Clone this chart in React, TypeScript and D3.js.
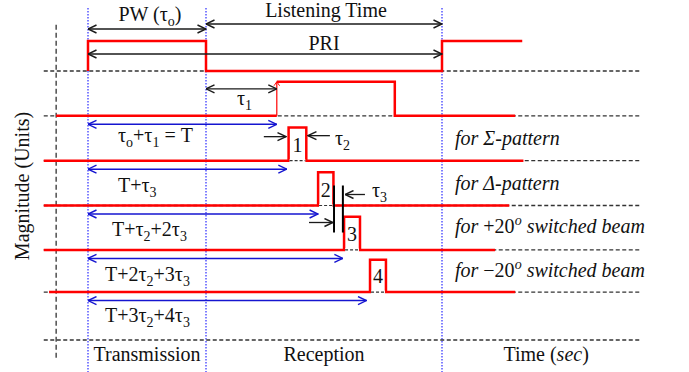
import React from "react";
import * as d3 from "d3";

const W = 689;
const H = 372;
const FONT = "'Liberation Serif', 'Times New Roman', serif";

// ---- data (time in arbitrary units: 0 = start of transmission) ----
const timeMarks = [0, 10, 30]; // start of Tx, end of PW, PRI
const timeLimits = [-3.75, 46.8];
const rowBaselines = [6, 5, 4, 3, 2.01, 1.07]; // magnitude offset of each trace
const axisBaseline = 0;
const rowRedStart = [0, -2.7, -3.75, -3.75, -3.75, -3.3];
const rowRedEnd = [36.8, 36.2, 36.9, 35.7, 34.5, 36.2];
const pulseStart = [0, 16.0, 17.0, 19.5, 21.7, 23.9];
const pulseEnd = [10, 26.0, 18.5, 20.8, 23.05, 25.25];
const pulseAmp = [0.67, 0.76, 0.74, 0.74, 0.74, 0.72];
const pulseNumbers = ["", "", "1", "2", "3", "4"];
const txRepeatStart = 30;

const delayEnds = [16.0, 16.85, 19.5, 21.6, 23.6];
type Part = [string, string | null, string | null];
const delayLabels: Part[][] = [
  [["τ", null, null], ["o", "sub", null], ["+τ", null, null], ["1", "sub", null], [" = T", null, null]],
  [["T+τ", null, null], ["3", "sub", null]],
  [["T+τ", null, null], ["2", "sub", null], ["+2τ", null, null], ["3", "sub", null]],
  [["T+2τ", null, null], ["2", "sub", null], ["+3τ", null, null], ["3", "sub", null]],
  [["T+3τ", null, null], ["2", "sub", null], ["+4τ", null, null], ["3", "sub", null]],
];
const rowNotes: Part[][] = [
  [["for Σ-pattern", null, null]],
  [["for Δ-pattern", null, null]],
  [["for ", null, null], ["+20", null, "normal"], ["o", "sup", null], [" switched beam", null, null]],
  [["for ", null, null], ["−20", null, "normal"], ["o", "sup", null], [" switched beam", null, null]],
];
const phaseLabels = ["Transmission", "Reception"];
const tau2Marks = [14.9, 16.78, 20.5, 18.64];
const tau3Marks = [18.73, 20.76, 23.47, 21.78];
const tau3Bars = [20.85, 21.6];

const xs = d3.scaleLinear().domain([0, 30]).range([88, 442]);
const ys = d3.scaleLinear().domain([0, 6]).range([340, 71]);
const line = d3.line<[number, number]>().x((d) => xs(d[0])).y((d) => ys(d[1]));

function Rich({ x, y, parts, anchor = "start", size = 20, italic = false }: any) {
  let cur = 0;
  return (
    <text x={x} y={y} textAnchor={anchor} fontSize={size} fontStyle={italic ? "italic" : "normal"} fontFamily={FONT} fill="#111">
      {parts.map((p: Part, i: number) => {
        const [s, kind, style] = p;
        const target = kind === "sub" ? 5 : kind === "sup" ? -8 : 0;
        const dy = target - cur;
        cur = target;
        return (
          <tspan key={i} dy={dy} fontSize={kind ? size * 0.7 : size} fontStyle={style || undefined}>
            {s}
          </tspan>
        );
      })}
    </text>
  );
}

export default function App() {
  const [t0, tPW, tPRI] = timeMarks;
  const black = "#1a1a1a";
  const blue = "#1515d0";
  const red = "#ff0000";

  const dashedRows = [...rowBaselines, axisBaseline];

  return (
    <svg width={W} height={H} style={{ position: "absolute", left: 0, top: 0, background: "#fff" }}>
      <defs>
        <marker id="ab" viewBox="0 0 10 10" refX="9.5" refY="5" markerWidth="10" markerHeight="10" markerUnits="userSpaceOnUse" orient="auto-start-reverse">
          <path d="M1,1 L9.5,5 L1,9" fill="none" stroke={black} strokeWidth="1.4" />
        </marker>
        <marker id="abl" viewBox="0 0 10 10" refX="9.5" refY="5" markerWidth="10" markerHeight="10" markerUnits="userSpaceOnUse" orient="auto-start-reverse">
          <path d="M1,1 L9.5,5 L1,9" fill="none" stroke={blue} strokeWidth="1.4" />
        </marker>
        <marker id="ar" viewBox="0 0 10 10" refX="5" refY="1" markerWidth="8" markerHeight="8" markerUnits="userSpaceOnUse" orient="0">
          <path d="M1.5,6 L5,1 L8.5,6" fill="none" stroke={red} strokeWidth="1.2" />
        </marker>
      </defs>

      {/* blue dotted time marks */}
      {timeMarks.map((t, i) => (
        <line key={i} x1={xs(t)} x2={xs(t)} y1={8} y2={H} stroke="#2a2aff" strokeWidth={1.2} strokeDasharray="1.5 1.5" />
      ))}

      {/* vertical magnitude axis */}
      <line x1={xs(-2.7)} x2={xs(-2.7)} y1={ys(7.03)} y2={ys(-0.4)} stroke="#333" strokeWidth={1.3} strokeDasharray="5 3" />

      {/* dashed baselines */}
      {dashedRows.map((b, i) => (
        <line key={i} x1={xs(timeLimits[0])} x2={xs(timeLimits[1])} y1={ys(b)} y2={ys(b)} stroke="#333" strokeWidth={1.3} strokeDasharray="4 2.5" />
      ))}

      {/* transmit trace */}
      <path
        d={line([
          [pulseStart[0], rowBaselines[0]],
          [pulseStart[0], rowBaselines[0] + pulseAmp[0]],
          [pulseEnd[0], rowBaselines[0] + pulseAmp[0]],
          [pulseEnd[0], rowBaselines[0]],
          [txRepeatStart, rowBaselines[0]],
          [txRepeatStart, rowBaselines[0] + pulseAmp[0]],
          [rowRedEnd[0], rowBaselines[0] + pulseAmp[0]],
        ])!}
        fill="none" stroke={red} strokeWidth={2.5}
      />

      {/* echo trace (row 1) */}
      <path d={line([[rowRedStart[1], rowBaselines[1]], [pulseStart[1], rowBaselines[1]]])!} fill="none" stroke={red} strokeWidth={2.5} />
      <path
        d={line([
          [pulseStart[1], rowBaselines[1] + pulseAmp[1]],
          [pulseEnd[1], rowBaselines[1] + pulseAmp[1]],
          [pulseEnd[1], rowBaselines[1]],
          [rowRedEnd[1], rowBaselines[1]],
        ])!}
        fill="none" stroke={red} strokeWidth={2.5} strokeLinejoin="miter"
      />
      <line x1={xs(pulseStart[1])} x2={xs(pulseStart[1])} y1={ys(rowBaselines[1])} y2={ys(rowBaselines[1] + pulseAmp[1])} stroke={red} strokeWidth={1.2} markerEnd="url(#ar)" />

      {/* gated pulses 1-4: baseline segments, dashed stays visible under pulse */}
      {rowBaselines.slice(2).map((b, k) => {
        const i = k + 2;
        return (
          <g key={i}>
            <path d={line([[rowRedStart[i], b], [pulseStart[i], b], [pulseStart[i], b + pulseAmp[i]], [pulseEnd[i], b + pulseAmp[i]], [pulseEnd[i], b], [rowRedEnd[i], b]])!} fill="none" stroke={red} strokeWidth={2.5} />
            <line x1={xs(pulseStart[i]) + 1} x2={xs(pulseEnd[i]) - 1} y1={ys(b)} y2={ys(b)} stroke="#fff" strokeWidth={3} />
            <line x1={xs(pulseStart[i]) + 1} x2={xs(pulseEnd[i]) - 1} y1={ys(b)} y2={ys(b)} stroke="#333" strokeWidth={1.2} strokeDasharray="3 2" />
            <text x={(xs(pulseStart[i]) + xs(pulseEnd[i])) / 2} y={ys(b) - 9} textAnchor="middle" fontSize={20} fontFamily={FONT} fill="#111">
              {pulseNumbers[i]}
            </text>
          </g>
        );
      })}

      {/* top annotations */}
      <line x1={xs(t0)} x2={xs(tPW)} y1={ys(6) - 42} y2={ys(6) - 42} stroke={black} strokeWidth={1.3} markerStart="url(#ab)" markerEnd="url(#ab)" />
      <Rich x={(xs(t0) + xs(tPW)) / 2 + 3} y={ys(6) - 50} anchor="middle" parts={[["PW (τ", null, null], ["o", "sub", null], [")", null, null]]} />
      <line x1={xs(tPW)} x2={xs(tPRI)} y1={ys(6) - 47} y2={ys(6) - 47} stroke={black} strokeWidth={1.3} markerStart="url(#ab)" markerEnd="url(#ab)" />
      <Rich x={(xs(tPW) + xs(tPRI)) / 2 + 2} y={ys(6) - 54} anchor="middle" parts={[["Listening Time", null, null]]} />
      <line x1={xs(t0)} x2={xs(tPRI)} y1={ys(6) - 17} y2={ys(6) - 17} stroke={black} strokeWidth={1.3} markerStart="url(#ab)" markerEnd="url(#ab)" />
      <Rich x={(xs(tPW) + xs(tPRI)) / 2} y={ys(6) - 21} anchor="middle" parts={[["PRI", null, null]]} />

      {/* tau1 */}
      <line x1={xs(tPW)} x2={xs(pulseStart[1])} y1={ys(5) - 27} y2={ys(5) - 27} stroke={black} strokeWidth={1.3} markerStart="url(#ab)" markerEnd="url(#ab)" />
      <Rich x={xs(tPW) + 31} y={ys(5) - 11} parts={[["τ", null, null], ["1", "sub", null]]} />

      {/* delay arrows (blue) */}
      {delayEnds.map((e, i) => {
        const b = rowBaselines[i + 1];
        const yA = ys(b) + 8.5;
        const labelOff = [26, 31, 30, 31, 30][i];
        const lx = [30, 30, 24, 17, 17][i];
        return (
          <g key={i}>
            <line x1={xs(t0)} x2={xs(e)} y1={yA} y2={yA} stroke={blue} strokeWidth={1.5} markerStart="url(#abl)" markerEnd="url(#abl)" />
            <Rich x={xs(t0) + lx} y={ys(b) + labelOff} parts={delayLabels[i]} />
          </g>
        );
      })}

      {/* tau2 markers */}
      <line x1={xs(tau2Marks[0])} x2={xs(tau2Marks[1])} y1={ys(4) - 24} y2={ys(4) - 24} stroke={black} strokeWidth={1.3} markerEnd="url(#ab)" />
      <line x1={xs(tau2Marks[2])} x2={xs(tau2Marks[3])} y1={ys(4) - 25} y2={ys(4) - 25} stroke={black} strokeWidth={1.3} markerEnd="url(#ab)" />
      <Rich x={xs(tau2Marks[2]) + 5} y={ys(4) - 16} parts={[["τ", null, null], ["2", "sub", null]]} />

      {/* tau3 markers */}
      {tau3Bars.map((t, i) => (
        <line key={i} x1={xs(t)} x2={xs(t)} y1={ys(3) - 20} y2={ys(3) + 27} stroke="#000" strokeWidth={2} />
      ))}
      <line x1={xs(tau3Marks[0])} x2={xs(tau3Marks[1])} y1={ys(3) + 17} y2={ys(3) + 17} stroke={black} strokeWidth={1.3} markerEnd="url(#ab)" />
      <line x1={xs(tau3Marks[2])} x2={xs(tau3Marks[3])} y1={ys(3) - 11} y2={ys(3) - 11} stroke={black} strokeWidth={1.3} markerEnd="url(#ab)" />
      <Rich x={xs(tau3Marks[2]) + 7} y={ys(3) - 9} parts={[["τ", null, null], ["3", "sub", null]]} />

      {/* right-hand notes */}
      {rowNotes.map((p, i) => (
        <Rich key={i} x={xs(tPRI) + 13} y={ys(rowBaselines[i + 1]) + [29, 29, 27, 27][i]} parts={p} italic />
      ))}

      {/* bottom labels */}
      {phaseLabels.map((s, i) => (
        <Rich key={i} x={(xs(timeMarks[i]) + xs(timeMarks[i + 1])) / 2} y={ys(axisBaseline) + 21} anchor="middle" parts={[[s, null, null]]} />
      ))}
      <Rich x={(xs(tPRI) + xs(timeLimits[1])) / 2 + 5} y={ys(axisBaseline) + 21} anchor="middle" parts={[["Time (", null, null], ["sec", null, "italic"], [")", null, null]]} />

      {/* y axis label */}
      <text transform={`translate(29, 186) rotate(-90)`} textAnchor="middle" fontSize={20} fontFamily={FONT} fill="#111">
        Magnitude  (Units)
      </text>
    </svg>
  );
}
